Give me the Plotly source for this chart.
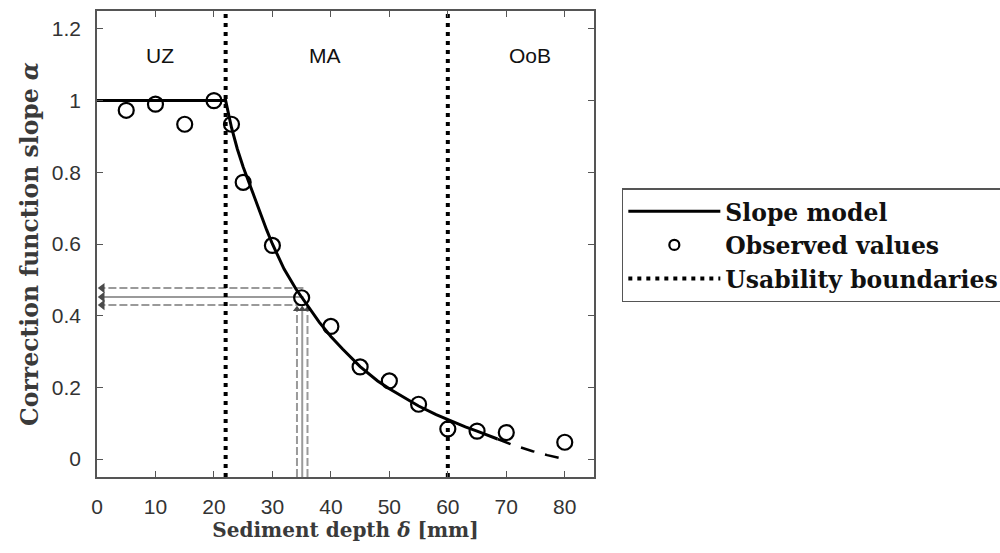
import plotly.graph_objects as go

# Observed correction-function slopes
obs_depth = [5, 10, 15, 20, 23, 25, 30, 35, 40, 45, 50, 55, 60, 65, 70, 80]
obs_alpha = [0.973, 0.99, 0.934, 1.0, 0.934, 0.772, 0.596, 0.45, 0.37, 0.257,
             0.218, 0.153, 0.084, 0.078, 0.074, 0.047]

# Slope model inside the usable range (solid) and its extrapolation (dashed)
model_depth = [0, 22, 23, 24, 25, 26, 27, 28, 29, 30, 32, 34, 35, 36, 38, 40,
               42, 45, 48, 50, 52, 55, 58, 60, 63, 65, 68.5]
model_alpha = [1.0, 1.0, 0.925, 0.865, 0.815, 0.77, 0.725, 0.685, 0.64, 0.6,
               0.53, 0.475, 0.452, 0.428, 0.382, 0.342, 0.307, 0.258, 0.218,
               0.196, 0.176, 0.148, 0.124, 0.11, 0.09, 0.078, 0.056]
extrap_depth = [68.5, 71, 74.5, 77, 80]
extrap_alpha = [0.056, 0.04, 0.022, 0.011, 0.0]

# Usability boundaries and zone names
boundaries = [22, 60]
zone_names = ["UZ", "MA", "OoB"]
zone_x = [10.8, 39, 74]
zone_y = 1.127

# Read-off example: depth 35 +/- 1 mm gives alpha 0.45 +/- 0.02
readoff_depth = [34.2, 35.1, 36.0]
readoff_alpha = [0.477, 0.452, 0.43]
readoff_dash = ["8px,3px", "solid", "8px,3px"]

x_range = [0, 85]
y_range = [-0.05, 1.25]
x_ticks = [0, 10, 20, 30, 40, 50, 60, 70, 80]
y_ticks = [0, 0.2, 0.4, 0.6, 0.8, 1.0, 1.2]
y_ticktext = ["0", "0.2", "0.4", "0.6", "0.8", "1", "1.2"]

GREY = "#9a9a9a"
ARROW = "#4a4a4a"
SERIF = "DejaVu Serif"

fig = go.Figure()

# gray read-off lines
for i in range(3):
    fig.add_trace(go.Scatter(
        x=[readoff_depth[1] + 0.2, 0.5], y=[readoff_alpha[i]] * 2,
        mode="lines", line=dict(color=GREY, width=2, dash=readoff_dash[i]),
        showlegend=False, hoverinfo="skip"))
    fig.add_trace(go.Scatter(
        x=[readoff_depth[i]] * 2, y=[y_range[0], 0.418],
        mode="lines", line=dict(color=GREY, width=2, dash=readoff_dash[i]),
        showlegend=False, hoverinfo="skip"))
fig.add_trace(go.Scatter(
    x=[0.9] * 3, y=readoff_alpha, mode="markers",
    marker=dict(symbol="triangle-left", size=9, color=ARROW),
    showlegend=False, hoverinfo="skip"))
fig.add_trace(go.Scatter(
    x=readoff_depth, y=[0.418] * 3, mode="markers",
    marker=dict(symbol="triangle-up", size=7, color=ARROW),
    showlegend=False, hoverinfo="skip"))

# slope model
fig.add_trace(go.Scatter(
    x=model_depth, y=model_alpha, mode="lines", name="Slope model",
    line=dict(color="black", width=3)))
fig.add_trace(go.Scatter(
    x=extrap_depth, y=extrap_alpha, mode="lines", showlegend=False,
    line=dict(color="black", width=2.5, dash="14px,11px")))

# observed values
fig.add_trace(go.Scatter(
    x=obs_depth, y=obs_alpha, mode="markers", showlegend=False,
    marker=dict(symbol="circle-open", size=15, color="black",
                line=dict(width=2.2, color="black"))))
fig.add_trace(go.Scatter(
    x=[None], y=[None], mode="markers", name="Observed values",
    marker=dict(symbol="circle-open", size=10, color="black",
                line=dict(width=2.2, color="black"))))

# usability boundaries
bx, by = [], []
for b in boundaries:
    bx += [b, b, None]
    by += [y_range[0], y_range[1], None]
fig.add_trace(go.Scatter(
    x=bx, y=by, mode="lines", name="Usability boundaries",
    line=dict(color="black", width=4, dash="4px,5px")))

for name, zx in zip(zone_names, zone_x):
    fig.add_annotation(x=zx, y=zone_y, text=name, showarrow=False,
                       font=dict(family="Liberation Sans", size=21, color="#111"))

axis_common = dict(
    showline=True, mirror="ticks", linecolor="#555", linewidth=1.5,
    ticks="inside", ticklen=6, tickcolor="#555", tickwidth=1.2,
    showgrid=False, zeroline=False, automargin=False,
    tickfont=dict(family="Liberation Sans", size=21, color="#333"),
)

fig.update_xaxes(range=x_range, tickvals=x_ticks, ticklabelstandoff=10,
                 title=dict(text="<b>Sediment depth <i>δ</i> [mm]</b>", standoff=4,
                            font=dict(family=SERIF, size=20, color="#3a3a3a")),
                 **axis_common)
fig.update_yaxes(range=y_range, tickvals=y_ticks, ticktext=y_ticktext,
                 ticklabelstandoff=10,
                 title=dict(text="<b>Correction function slope <i>α</i></b>", standoff=7,
                            font=dict(family=SERIF, size=23.5, color="#3a3a3a")),
                 **axis_common)

fig.update_layout(
    width=1000, height=553,
    margin=dict(l=97, r=406, t=11, b=76, autoexpand=False),
    paper_bgcolor="white", plot_bgcolor="white",
    legend=dict(x=1.056, y=0.62, xanchor="left", yanchor="top",
                bordercolor="#555", borderwidth=1.5, bgcolor="white",
                itemwidth=92, tracegroupgap=0,
                font=dict(family=SERIF, size=23.5, color="#111", weight="bold")),
)

fig.write_html("out.html")
